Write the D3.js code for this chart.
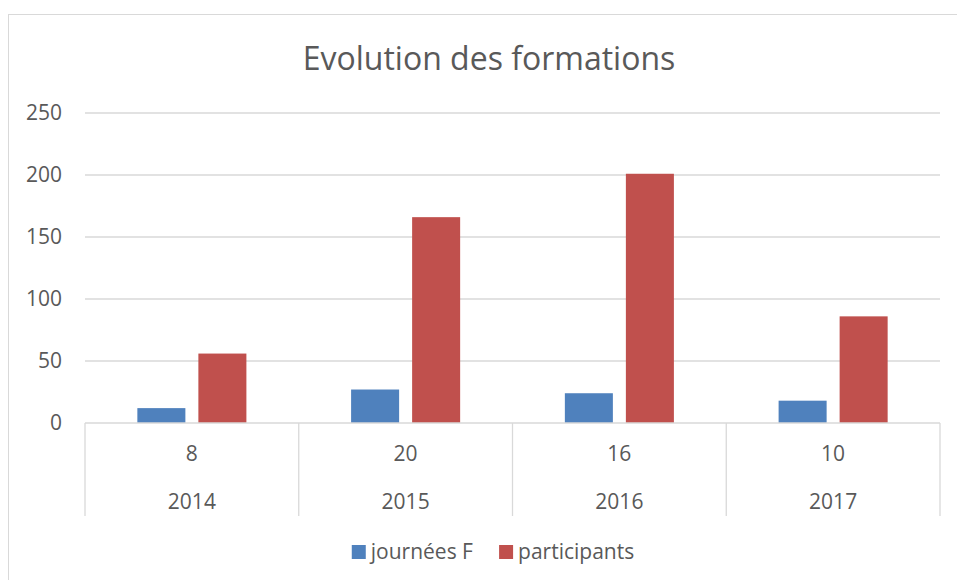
<!DOCTYPE html>
<html>
<head>
<meta charset="utf-8">
<script src="https://cdnjs.cloudflare.com/ajax/libs/d3/7.8.5/d3.min.js"></script>
<style>
  body { margin: 0; background: #fff; }
  text { font-family: "Open Sans", "DejaVu Sans", sans-serif; fill: #595959; }
</style>
</head>
<body>
<div id="chart"></div>
<script>
var years = ["2014", "2015", "2016", "2017"],
  sessions = ["8", "20", "16", "10"],   // inner category labels
  seriesNames = ["journées F", "participants"],
  journees = [12, 27, 24, 18],
  participants = [56, 166, 201, 86],
  yTicks = [0, 50, 100, 150, 200, 250];

var colors = ["#4f81bd", "#c0504d"],
  gridColor = "#d9d9d9";

var W = 957, H = 580,
  margin = { top: 113, right: 17, bottom: 157, left: 85 },
  plotW = W - margin.left - margin.right,
  plotH = H - margin.top - margin.bottom;

var svg = d3.select("#chart").append("svg")
  .attr("width", W)
  .attr("height", H);

// chart area border (right and bottom edges fall outside the picture)
svg.append("rect")
  .attr("x", 8.5).attr("y", 14.5)
  .attr("width", 980).attr("height", 600)
  .attr("fill", "none")
  .attr("stroke", gridColor)
  .attr("stroke-width", 1);

svg.append("text")
  .attr("class", "title")
  .attr("x", 489)
  .attr("y", 70)
  .attr("text-anchor", "middle")
  .style("font-size", "32px")
  .text("Evolution des formations");

var g = svg.append("g")
  .attr("transform", "translate(" + margin.left + "," + margin.top + ")");

var x0 = d3.scaleBand().domain(years).range([0, plotW]).padding(0);
var x1 = d3.scaleBand().domain(seriesNames).range([0, x0.bandwidth()])
  .paddingInner(0.213).paddingOuter(0.858);
var y = d3.scaleLinear().domain([0, 250]).range([plotH, 0]);

// horizontal gridlines
g.selectAll(".grid")
  .data(yTicks.slice(1))
  .enter().append("line")
  .attr("class", "grid")
  .attr("x1", 0).attr("x2", plotW)
  .attr("y1", function (d) { return y(d); })
  .attr("y2", function (d) { return y(d); })
  .attr("stroke", gridColor)
  .attr("stroke-width", 1.3);

// y axis labels
var yAxis = d3.axisLeft(y).tickValues(yTicks).tickSize(0).tickPadding(23);
g.append("g").call(yAxis)
  .call(function (a) { a.select(".domain").remove(); })
  .selectAll("text")
  .style("font-size", "21px")
  .attr("fill", "#595959");

// bars
var rows = years.map(function (yr, i) {
  return { year: yr, values: [journees[i], participants[i]] };
});

var groups = g.selectAll(".year")
  .data(rows)
  .enter().append("g")
  .attr("class", "year")
  .attr("transform", function (d) { return "translate(" + x0(d.year) + ",0)"; });

groups.selectAll("rect")
  .data(function (d) {
    return d.values.map(function (v, k) { return { name: seriesNames[k], value: v, k: k }; });
  })
  .enter().append("rect")
  .attr("x", function (d) { return x1(d.name); })
  .attr("width", x1.bandwidth())
  .attr("y", function (d) { return y(d.value); })
  .attr("height", function (d) { return plotH - y(d.value); })
  .attr("fill", function (d) { return colors[d.k]; });

// category axis line and dividers
var lineBottom = 93;
g.append("line")
  .attr("x1", 0).attr("x2", plotW)
  .attr("y1", plotH).attr("y2", plotH)
  .attr("stroke", gridColor).attr("stroke-width", 1.3);

var edges = years.map(function (d) { return x0(d); }).concat([plotW]);
g.selectAll(".divider")
  .data(edges)
  .enter().append("line")
  .attr("class", "divider")
  .attr("x1", function (d) { return d; })
  .attr("x2", function (d) { return d; })
  .attr("y1", plotH).attr("y2", plotH + lineBottom)
  .attr("stroke", gridColor).attr("stroke-width", 1.3);

g.selectAll(".inner")
  .data(sessions)
  .enter().append("text")
  .attr("class", "inner")
  .attr("x", function (d, i) { return x0(years[i]) + x0.bandwidth() / 2; })
  .attr("y", plotH + 38)
  .attr("text-anchor", "middle")
  .style("font-size", "21px")
  .text(function (d) { return d; });

g.selectAll(".outer")
  .data(years)
  .enter().append("text")
  .attr("class", "outer")
  .attr("x", function (d) { return x0(d) + x0.bandwidth() / 2; })
  .attr("y", plotH + 86)
  .attr("text-anchor", "middle")
  .style("font-size", "21px")
  .text(function (d) { return d; });

// legend
var legend = svg.append("g").attr("class", "legend");
var items = legend.selectAll(".item")
  .data(seriesNames)
  .enter().append("g")
  .attr("class", "item");

items.append("rect")
  .attr("width", 14).attr("height", 14)
  .attr("y", 545)
  .attr("fill", function (d, i) { return colors[i]; });

items.append("text")
  .attr("x", 19)
  .attr("y", 559)
  .style("font-size", "21px")
  .text(function (d) { return d; });

var offset = 0, widths = [];
items.each(function () { widths.push(this.getBBox().width); });
var total = d3.sum(widths) + 26;
offset = 493 - total / 2;
items.attr("transform", function (d, i) {
  var t = "translate(" + offset + ",0)";
  offset += widths[i] + 26;
  return t;
});
</script>
</body>
</html>
